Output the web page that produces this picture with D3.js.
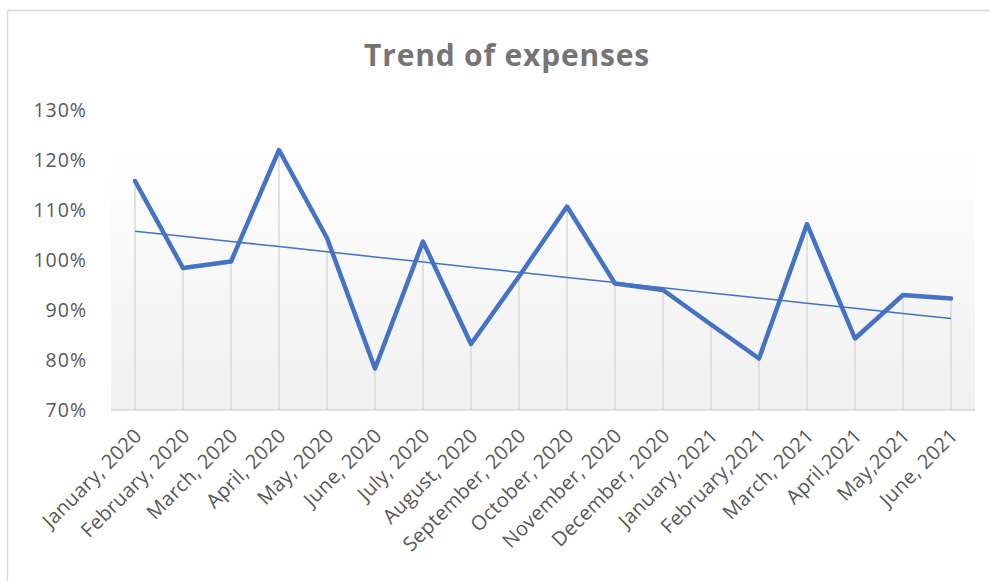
<!DOCTYPE html>
<html><head><meta charset="utf-8">
<script src="https://cdn.jsdelivr.net/npm/d3@7"></script>
<style>body{margin:0;background:#fff}</style>
</head><body>
<svg id="c" width="990" height="581"></svg>
<script>
const categories = ["January, 2020","February, 2020","March, 2020","April, 2020","May, 2020","June, 2020","July, 2020","August, 2020","September, 2020","October, 2020","November, 2020","December, 2020","January, 2021","February,2021","March, 2021","April,2021","May,2021","June, 2021"];
const expenses = [115.8,98.4,99.7,122,104.4,78.3,103.7,83.2,96.7,110.7,95.3,94,87.1,80.3,107.2,84.3,93,92.3];
const yTicks = [70,80,90,100,110,120,130];
const title = "Trend of expenses";

const svg = d3.select("#c");
const W = 990, H = 581;
const pLeft = 111, pRight = 975, pTop = 110, pBottom = 410;
const x = d3.scaleBand().domain(categories).range([pLeft, pRight]);
const y = d3.scaleLinear().domain([70,130]).range([pBottom, pTop]);
const cx = d => x(d) + x.bandwidth()/2;

svg.append("rect").attr("x",7.5).attr("y",10.5).attr("width",W).attr("height",H)
  .attr("fill","#fff").attr("stroke","#d9d9d9").attr("stroke-width",1.5);

const defs = svg.append("defs");
const g = defs.append("linearGradient").attr("id","bg").attr("x1",0).attr("y1",0).attr("x2",0).attr("y2",1);
g.append("stop").attr("offset","0%").attr("stop-color","#ffffff");
g.append("stop").attr("offset","100%").attr("stop-color","#f0f0f0");
svg.append("rect").attr("x",pLeft).attr("y",148).attr("width",pRight-pLeft).attr("height",pBottom-148).attr("fill","url(#bg)");

svg.append("text").attr("x",507).attr("y",66).attr("text-anchor","middle")
  .attr("font-family","Open Sans").attr("font-weight","bold").attr("font-size",30)
  .attr("letter-spacing",0.8)
  .attr("fill","#757575").text(title);

// drop lines
svg.append("g").selectAll("line").data(categories).join("line")
  .attr("x1",d=>cx(d)).attr("x2",d=>cx(d))
  .attr("y1",(d,i)=>y(expenses[i])).attr("y2",pBottom)
  .attr("stroke","#d9d9d9").attr("stroke-width",1.5);

// axis line
svg.append("line").attr("x1",pLeft).attr("x2",pRight).attr("y1",pBottom).attr("y2",pBottom)
  .attr("stroke","#d9d9d9").attr("stroke-width",1.5);

// y labels
svg.append("g").selectAll("text").data(yTicks).join("text")
  .attr("x",87).attr("y",d=>y(d)).attr("dy","0.36em").attr("text-anchor","end")
  .attr("font-family","Open Sans").attr("font-size",19.5).attr("letter-spacing",1)
  .attr("fill","#595959")
  .text(d=>d+"%");

// x labels
svg.append("g").selectAll("text").data(categories).join("text")
  .attr("transform",d=>`translate(${cx(d)+3},${432}) rotate(-45)`)
  .attr("dy","0.35em").attr("text-anchor","end")
  .attr("font-family","Open Sans").attr("font-size",20).attr("letter-spacing",0.3)
  .attr("fill","#595959")
  .text(d=>d);

// line
const line = d3.line().x((d,i)=>cx(categories[i])).y(d=>y(d));
svg.append("path").datum(expenses).attr("d",line).attr("fill","none")
  .attr("stroke","#4472C4").attr("stroke-width",4.5).attr("stroke-linejoin","round").attr("stroke-linecap","round");

// linear trendline (least squares)
const n = expenses.length;
const idx = d3.range(n);
const mx = d3.mean(idx), my = d3.mean(expenses);
const slope = d3.sum(idx,i=>(i-mx)*(expenses[i]-my))/d3.sum(idx,i=>(i-mx)*(i-mx));
const icpt = my - slope*mx;
const trend = idx.map(i=>icpt+slope*i);
svg.append("path").datum(trend).attr("d",line).attr("fill","none")
  .attr("stroke","#4472C4").attr("stroke-width",1.5);
</script>
</body></html>
